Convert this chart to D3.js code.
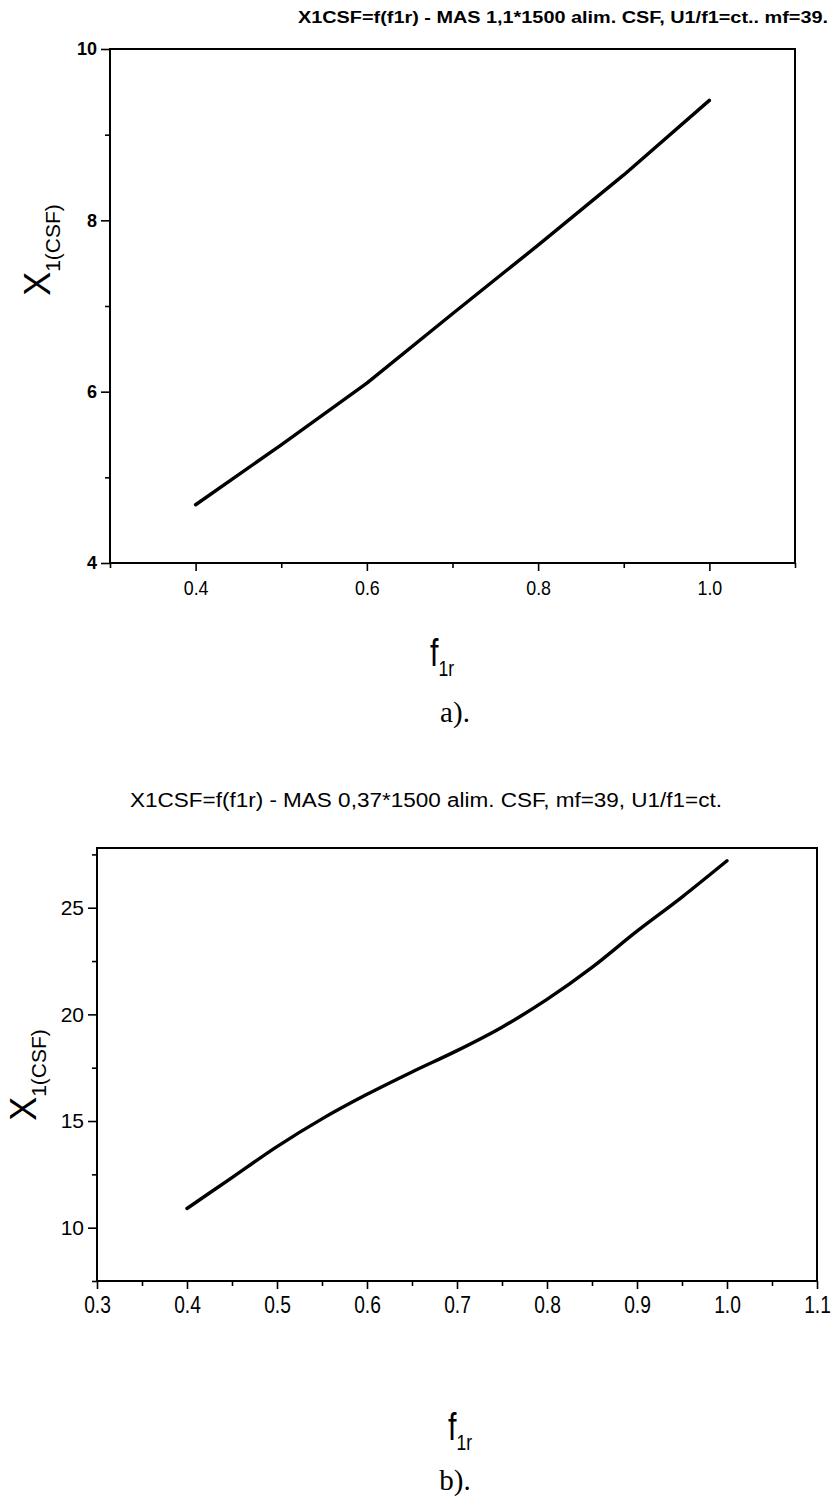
<!DOCTYPE html>
<html>
<head>
<meta charset="utf-8">
<script src="https://cdn.jsdelivr.net/npm/d3@7"></script>
<style>
  html, body { margin: 0; padding: 0; background: #fff; }
  svg { display: block; }
  .tick text { fill: #000; }
</style>
</head>
<body>
<div id="chart"></div>
<script>
// X1(CSF) = f(f1r) -- two panels, a) MAS 1,1*1500 and b) MAS 0,37*1500

// panel a)
var fA = [0.40, 0.50, 0.60, 0.70, 0.80, 0.90, 1.00];
var xA = [4.68, 5.38, 6.10, 6.91, 7.71, 8.53, 9.40];
var titleA = 'X1CSF=f(f1r) - MAS 1,1*1500  alim. CSF, U1/f1=ct.. mf=39.';
var xTicksA = [0.4, 0.6, 0.8, 1.0];
var xMinorA = [0.3, 0.5, 0.7, 0.9, 1.1];
var yTicksA = [4, 6, 8, 10];
var yMinorA = [5, 7, 9];

// panel b)
var fB = [0.40, 0.45, 0.50, 0.55, 0.60, 0.65, 0.70, 0.75, 0.80, 0.85, 0.90, 0.95, 1.00];
var xB = [10.9, 12.35, 13.8, 15.1, 16.25, 17.3, 18.3, 19.4, 20.7, 22.2, 23.9, 25.5, 27.2];
var titleB = 'X1CSF=f(f1r) - MAS 0,37*1500  alim. CSF, mf=39, U1/f1=ct.';
var xTicksB = [0.3, 0.4, 0.5, 0.6, 0.7, 0.8, 0.9, 1.0, 1.1];
var xMinorB = [0.35, 0.45, 0.55, 0.65, 0.75, 0.85, 0.95, 1.05];
var yTicksB = [10, 15, 20, 25];
var yMinorB = [7.5, 12.5, 17.5, 22.5, 27.5];

var W = 833, H = 1500;
var svg = d3.select('#chart').append('svg')
  .attr('width', W).attr('height', H)
  .attr('viewBox', '0 0 ' + W + ' ' + H);

var SANS = '"Liberation Sans", Arial, sans-serif';

function panel(o) {
  var x = d3.scaleLinear().domain(o.xDomain).range([o.left, o.right]);
  var y = d3.scaleLinear().domain(o.yDomain).range([o.bottom, o.top]);
  var g = svg.append('g');

  // title (narrow look through textLength)
  g.append('text')
    .attr('x', o.titleX).attr('y', o.titleY)
    .attr('text-anchor', 'middle')
    .attr('textLength', o.titleLen).attr('lengthAdjust', 'spacingAndGlyphs')
    .style('font-family', SANS).style('font-size', o.titleSize + 'px')
    .style('font-weight', o.titleWeight)
    .text(o.title);

  // minor ticks
  g.append('g').attr('transform', 'translate(0,' + o.bottom + ')')
    .call(d3.axisBottom(x).tickValues(o.xMinor).tickSize(5).tickFormat(''))
    .call(function (s) { s.select('.domain').remove(); s.selectAll('line').attr('stroke-width', 1.6); });
  g.append('g').attr('transform', 'translate(' + o.left + ',0)')
    .call(d3.axisLeft(y).tickValues(o.yMinor).tickSize(5).tickFormat(''))
    .call(function (s) { s.select('.domain').remove(); s.selectAll('line').attr('stroke-width', 1.6); });

  // major ticks + labels
  g.append('g').attr('transform', 'translate(0,' + o.bottom + ')')
    .call(d3.axisBottom(x).tickValues(o.xTicks).tickSize(8).tickPadding(o.xPad)
      .tickFormat(d3.format('.1f')))
    .call(function (s) {
      s.select('.domain').remove();
      s.selectAll('line').attr('stroke-width', 1.6);
      s.selectAll('text').style('font-family', SANS).style('font-size', o.xSize + 'px')
        .style('font-weight', o.xWeight)
        .attr('transform', 'scale(' + o.xSquash + ',1)');
    });
  g.append('g').attr('transform', 'translate(' + o.left + ',0)')
    .call(d3.axisLeft(y).tickValues(o.yTicks).tickSize(9).tickPadding(4)
      .tickFormat(d3.format('d')))
    .call(function (s) {
      s.select('.domain').remove();
      s.selectAll('line').attr('stroke-width', 1.6);
      s.selectAll('text').style('font-family', SANS).style('font-size', o.ySize + 'px')
        .style('font-weight', o.yWeight);
    });

  // frame
  g.append('rect')
    .attr('x', o.left).attr('y', o.top)
    .attr('width', o.right - o.left).attr('height', o.bottom - o.top)
    .attr('fill', 'none').attr('stroke', '#000').attr('stroke-width', 2);

  // curve
  var pts = o.f.map(function (v, i) { return [v, o.v[i]]; });
  g.append('path')
    .datum(pts)
    .attr('fill', 'none').attr('stroke', '#000').attr('stroke-width', 3.4)
    .attr('stroke-linecap', 'round').attr('stroke-linejoin', 'round')
    .attr('d', d3.line().curve(o.curve)
      .x(function (d) { return x(d[0]); })
      .y(function (d) { return y(d[1]); }));

  // y title: X with subscript 1(CSF)
  var yt = g.append('text')
    .attr('transform', 'translate(' + o.yTitleX + ',' + o.yTitleY + ') rotate(-90)')
    .attr('text-anchor', 'middle')
    .style('font-family', SANS).style('font-size', '36px');
  yt.append('tspan').text('X');
  yt.append('tspan').attr('dy', 10).style('font-size', '21px').text('1(CSF)');

  // x title: f with subscript 1r
  var xt = g.append('text')
    .attr('transform', 'translate(' + o.xTitleX + ',' + o.xTitleY + ') scale(0.8,1)')
    .attr('text-anchor', 'middle')
    .style('font-family', SANS).style('font-size', '38px');
  xt.append('tspan').text('f');
  xt.append('tspan').attr('dy', 10).style('font-size', '22px').text('1r');

  // caption
  g.append('text')
    .attr('x', o.capX).attr('y', o.capY)
    .attr('text-anchor', 'middle')
    .style('font-family', '"Liberation Serif", "Times New Roman", serif')
    .style('font-size', '29px')
    .text(o.caption);
}

panel({
  f: fA, v: xA, title: titleA, curve: d3.curveLinear,
  xDomain: [0.3, 1.1], yDomain: [4, 10],
  left: 110, right: 795, top: 49, bottom: 563,
  xTicks: xTicksA, xMinor: xMinorA, yTicks: yTicksA, yMinor: yMinorA,
  titleX: 563, titleY: 23, titleLen: 530, titleSize: 16, titleWeight: 'bold',
  xSize: 21, xWeight: 'normal', xPad: 9, xSquash: 0.85,
  ySize: 18, yWeight: 'bold',
  yTitleX: 50, yTitleY: 250, xTitleX: 442, xTitleY: 666,
  capX: 455, capY: 722, caption: 'a).'
});

panel({
  f: fB, v: xB, title: titleB, curve: d3.curveMonotoneX,
  xDomain: [0.3, 1.1], yDomain: [7.5, 27.8],
  left: 97, right: 817, top: 848, bottom: 1281,
  xTicks: xTicksB, xMinor: xMinorB, yTicks: yTicksB, yMinor: yMinorB,
  titleX: 426, titleY: 807, titleLen: 592, titleSize: 20, titleWeight: 'normal',
  xSize: 24, xWeight: 'normal', xPad: 7, xSquash: 0.8,
  ySize: 21, yWeight: 'normal',
  yTitleX: 36, yTitleY: 1075, xTitleX: 460, xTitleY: 1440,
  capX: 455, capY: 1490, caption: 'b).'
});
</script>
</body>
</html>
